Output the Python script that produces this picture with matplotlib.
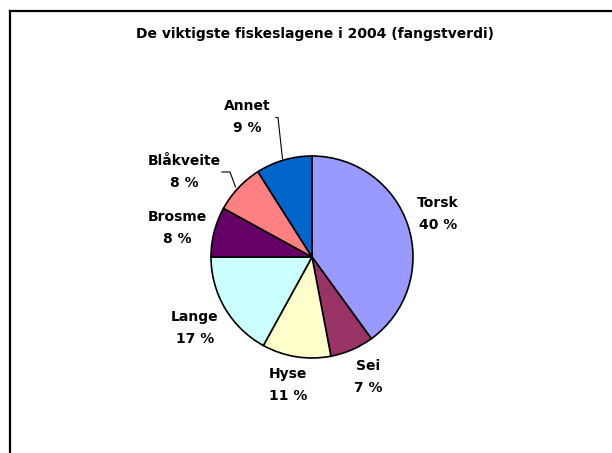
import matplotlib
matplotlib.use("Agg")
import matplotlib.pyplot as plt
from matplotlib.lines import Line2D

plt.rcParams['font.family'] = ['DejaVu Sans']

title = "De viktigste fiskeslagene i 2004 (fangstverdi)"
categories = ["Torsk", "Sei", "Hyse", "Lange", "Brosme", "Blåkveite", "Annet"]
values = [40, 7, 11, 17, 8, 8, 9]
colors = ["#9999FF", "#993366", "#FFFFCC", "#CCFFFF", "#660066", "#FF8080", "#0066CC"]

W, H = 612, 453
fig = plt.figure(figsize=(W / 100, H / 100), dpi=100)
ax = fig.add_axes([0, 0, 1, 1])

cx, cy, r = 312, H - 257, 101
wedges, _ = ax.pie(values, colors=colors, startangle=90, counterclock=False,
                   center=(cx, cy), radius=r, frame=True,
                   wedgeprops=dict(edgecolor='black', linewidth=1.2))
ax.set_xlim(0, W)
ax.set_ylim(0, H)
ax.set_aspect('equal')
ax.axis('off')

# label positions (pixel layout, top-left origin)
label_pos = [(438, 214), (368, 377), (288, 385), (195, 328), (177, 228), (184, 172), (247, 117)]
for name, v, (x, y) in zip(categories, values, label_pos):
    ax.text(x, H - y, f"{name}\n{v} %", ha='center', va='center', fontsize=10,
            fontweight='bold', linespacing=1.65)

# leader lines
ax.add_line(Line2D([276, 278, 282.5], [H - 117.5, H - 117.5, H - 159], color='black', lw=0.8))
ax.add_line(Line2D([222, 230, 235.5], [H - 172, H - 172, H - 187], color='black', lw=0.8))

fig.text(315 / W, 1 - 34 / H, title, ha='center', va='center', fontsize=10, fontweight='bold')

# chart area border (left and top visible)
fig.add_artist(Line2D([10 / W, 10 / W], [0, 1 - 11 / H], transform=fig.transFigure, color='black', lw=1.6))
fig.add_artist(Line2D([10 / W, 1], [1 - 11 / H, 1 - 11 / H], transform=fig.transFigure, color='black', lw=1.6))

fig.savefig("out.png", dpi=100)
